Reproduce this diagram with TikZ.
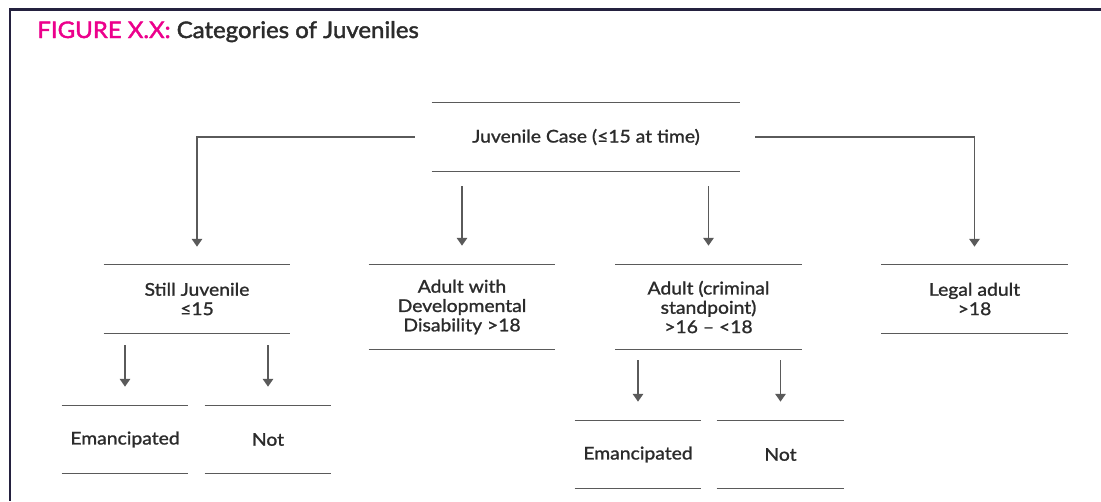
\documentclass[tikz,border=0pt]{standalone}
\usepackage{fontspec}
\setmainfont{Lato}
\newfontfamily\catfont{Lato}[FakeStretch=1.1, FakeBold=1.3]
\newfontfamily\titlefont{Lato}[FakeStretch=1.05, FakeBold=1.8]
\usepackage{xcolor}
\usetikzlibrary{arrows.meta, calc, positioning}
\definecolor{figmagenta}{HTML}{EC008C}
\definecolor{figink}{HTML}{2B2B2B}
\definecolor{figrule}{HTML}{5A5A5A}
\definecolor{figframe}{HTML}{24213F}
\tikzset{
  %category node style
  catbox/.style={
    inner sep=0pt
    , text=figink
    , align=center
    , font=\catfont\fontsize{10}{11}\selectfont
    , minimum width=3.72cm
    , minimum height=1.36cm
    %, draw
    , append after command={
        (\tikzlastnode.north west) edge[catrule] (\tikzlastnode.north east)
        (\tikzlastnode.south west) edge[catrule] (\tikzlastnode.south east)
      }
  },
  %rules above and below each category
  catrule/.style={
    draw=figrule
    , line width=0.9pt
  },
  %connector style
  flow/.style={
    draw=figrule
    , line width=0.9pt
    , -{Triangle[width=6pt,length=4.5pt]}
  },
}

\begin{document}
\begin{tikzpicture}[x=0.02cm, y=-0.02cm]
  \useasboundingbox (0,0) rectangle (1101,501);
  % frame
  \draw[figframe, line width=1.2pt] (1101,9.5) -- (10,9.5) -- (10,501);
  \node[anchor=base west, inner sep=0pt, font=\titlefont\fontsize{13}{15}\selectfont, text=figink]
    (title) at (37,38) {\textcolor{figmagenta}{FIGURE X.X:} Categories of Juveniles};

  % categories
  \node[catbox, minimum width=6.16cm] (case) at (586,137) {Juvenile Case (≤15 at time)};
  \node[catbox] (still) at (197,299) {Still Juvenile\\≤15};
  \node[catbox, minimum height=1.68cm] (devdis) at (462,307) {Adult with\\Developmental\\Disability >18};
  \node[catbox, minimum height=1.68cm] (crim) at (708.5,307) {Adult (criminal\\standpoint)\\>16 – <18};
  \node[catbox] (legal) at (974.5,299) {Legal adult\\>18};
  \node[catbox, minimum width=2.52cm, minimum height=1.34cm] (emanA) at (125,439.5) {Emancipated};
  \node[catbox, minimum width=2.52cm, minimum height=1.34cm] (notA) at (268,439.5) {Not};
  \node[catbox, minimum width=2.52cm, minimum height=1.34cm] (emanB) at (638,454.5) {Emancipated};
  \node[catbox, minimum width=2.54cm, minimum height=1.34cm] (notB) at (780.5,454.5) {Not};

  % connectors
  \draw[flow, shorten <=0.34cm, shorten >=0.36cm] (case.west) -| (still.north);
  \draw[flow, shorten <=0.3cm, shorten >=0.36cm] (case.east) -| (legal.north);
  \draw[flow, shorten <=0.3cm, shorten >=0.38cm] (case.south -| devdis.north) -- (devdis.north);
  \draw[flow, shorten <=0.3cm, shorten >=0.38cm] (case.south -| crim.north) -- (crim.north);
  \draw[flow, shorten <=0.24cm, shorten >=0.38cm] (still.south -| emanA.north) -- (emanA.north);
  \draw[flow, shorten <=0.24cm, shorten >=0.38cm] (still.south -| notA.north) -- (notA.north);
  \draw[flow, shorten <=0.22cm, shorten >=0.38cm] (crim.south -| emanB.north) -- (emanB.north);
  \draw[flow, shorten <=0.22cm, shorten >=0.38cm] (crim.south -| notB.north) -- (notB.north);
\end{tikzpicture}
\end{document}
